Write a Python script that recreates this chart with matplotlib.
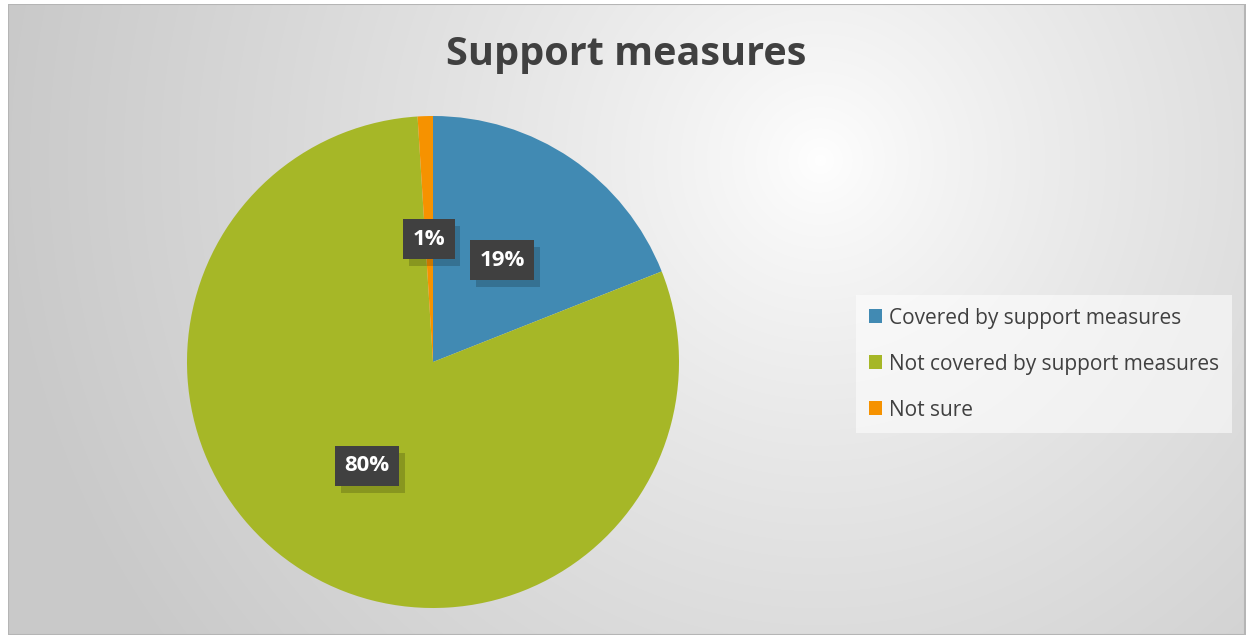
import numpy as np
import matplotlib.pyplot as plt
from matplotlib import patheffects
from matplotlib.patches import Rectangle

labels = ['Covered by support measures', 'Not covered by support measures', 'Not sure']
values = [19, 80, 1]
colors = ['#418AB3', '#A6B727', '#F69200']
title = 'Support measures'

W, H = 1246, 635
fig = plt.figure(figsize=(W / 100, H / 100), dpi=100)
fig.patch.set_facecolor('white')

# chart panel with radial gradient background
px0, py0, pw, ph = 8, 0, 1238, 631
bg = fig.add_axes([px0 / W, py0 / H, pw / W, ph / H])
yy, xx = np.mgrid[0:ph, 0:pw]
cx, cy = 820 - px0, 160 - 4
d = np.sqrt((xx - cx) ** 2 + (yy - cy) ** 2)
g = 1 - 0.21 * np.clip(d / 820, 0, 1) ** 0.8
bg.imshow(np.dstack([g, g, g]), aspect='auto', extent=[0, pw, ph, 0])
bg.set_xlim(0, pw)
bg.set_ylim(ph, 0)
bg.axis('off')
bg.add_patch(Rectangle((0, 0), pw - 1, ph, fill=False, edgecolor='#b5b5b5', lw=1.5))

# pie
r = 246
cxp, cyp = 433, 362
ax = fig.add_axes([(cxp - r) / W, (H - cyp - r) / H, 2 * r / W, 2 * r / H])
wedges, texts, autotexts = ax.pie(
    values, colors=colors, startangle=90, counterclock=False,
    autopct='%d%%', pctdistance=0.5,
    wedgeprops=dict(linewidth=0),
    textprops=dict(color='white', fontsize=16, fontweight='bold', family='Open Sans'))
ax.set_aspect('equal')
ax.set_xlim(-1, 1)
ax.set_ylim(-1, 1)

for t in autotexts:
    t.set_bbox(dict(boxstyle='square,pad=0.42', facecolor='#404040', edgecolor='none'))
    t.set_zorder(5)
    t.get_bbox_patch().set_path_effects([
        patheffects.SimplePatchShadow(offset=(4, -5), shadow_rgbFace='black', alpha=0.18),
        patheffects.Normal()])

fig.text(626 / W, 1 - 55 / H, title, ha='center', va='center', fontsize=28.5,
         fontweight='bold', color='#404040', family='Open Sans')

# legend
handles = [Rectangle((0, 0), 1, 1, facecolor=c) for c in colors]
leg = fig.legend(handles, labels, loc='upper left',
                 bbox_to_anchor=(856 / W, 1 - 295 / H), frameon=True,
                 prop=dict(family='Open Sans', size=15), labelcolor='#404040',
                 handlelength=0.65, handleheight=0.65, handletextpad=0.35,
                 labelspacing=1.2, borderpad=0.6, borderaxespad=0, fancybox=False)
leg.get_frame().set_facecolor('white')
leg.get_frame().set_alpha(0.55)
leg.get_frame().set_edgecolor('none')

fig.savefig('out.png', dpi=100)
